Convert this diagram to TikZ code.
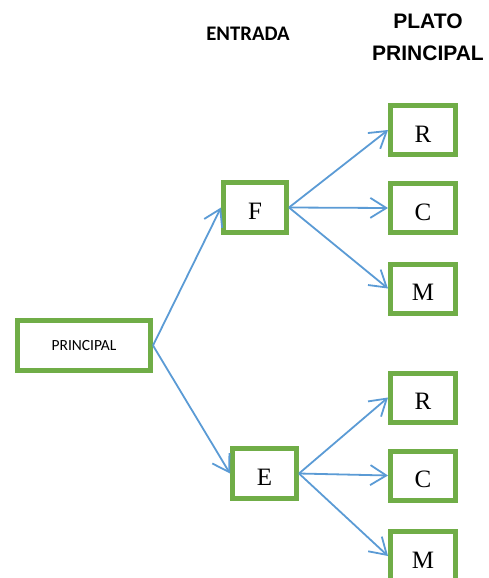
\documentclass[tikz,border=0pt]{standalone}
\usepackage{fontspec}
\setmainfont{Liberation Serif}
\newfontfamily\headfont{Liberation Sans}
\newfontfamily\calfont{Carlito}
\usetikzlibrary{arrows.meta}
\definecolor{boxgreen}{RGB}{112,173,71}
\definecolor{arrowblue}{RGB}{91,155,213}
\begin{document}
\begin{tikzpicture}[x=1pt,y=-1pt,
  gbox/.style={draw=boxgreen,line width=5pt,fill=white,inner sep=0pt,
    minimum width=65pt,minimum height=49pt,text height=24pt,text depth=0pt,
    font=\fontsize{25}{28}\selectfont},
  conn/.style={draw=arrowblue,line width=1.8pt,
    -{Straight Barb[length=16pt,width=20pt,line width=1.8pt]}},
  head/.style={font=\headfont\bfseries\fontsize{21}{33}\selectfont,align=center,inner sep=0pt}
]
\useasboundingbox (0,0) rectangle (489,578);
\begin{scope}
\clip (0,0) rectangle (489,578);
\node[head,anchor=base,font=\calfont\bfseries\fontsize{20.7}{24}\selectfont] (hEnt) at (248,40.5) {ENTRADA};
\node[head,anchor=base] (hPlato) at (428,29) {PLATO};
\node[head,anchor=base] (hPrin) at (428,61) {PRINCIPAL};

\node[gbox,minimum width=133pt,minimum height=50pt,text height=10pt,font=\calfont\fontsize{15.5}{18}\selectfont] (P) at (84,345.5) {PRINCIPAL};
\node[gbox,minimum width=63pt,minimum height=50pt] (F) at (255,207.5) {F};
\node[gbox,minimum width=64pt,minimum height=50pt] (E) at (264.5,473.5) {E};
\node[gbox] (R1) at (423,130) {R};
\node[gbox] (C1) at (423,208) {C};
\node[gbox] (M1) at (423,288.5) {M};
\node[gbox] (R2) at (423,397.5) {R};
\node[gbox] (C2) at (423,475.5) {C};
\node[gbox] (M2) at (423,556) {M};

\draw[conn] (P.east) -- (F.west);
\draw[conn] (P.east) -- (E.west);
\draw[conn] (F.east) -- (R1.west);
\draw[conn] (F.east) -- (C1.west);
\draw[conn] (F.east) -- (M1.west);
\draw[conn] (E.east) -- (R2.west);
\draw[conn] (E.east) -- (C2.west);
\draw[conn] (E.east) -- (M2.west);
\end{scope}
\end{tikzpicture}
\end{document}
